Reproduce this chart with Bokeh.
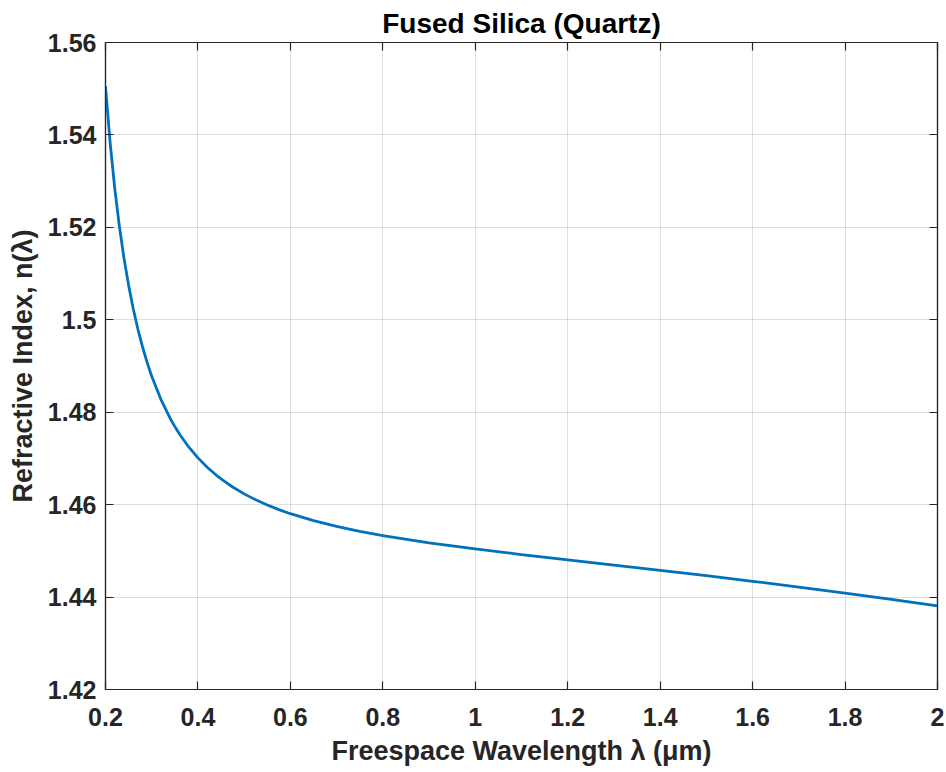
from bokeh.plotting import figure
from bokeh.models import FixedTicker, LinearAxis, Range1d
from bokeh.embed import file_html
from bokeh.resources import INLINE

# Data (wavelength in micrometres, refractive index)
wavelength = [0.20, 0.21, 0.22, 0.23, 0.24, 0.25, 0.26, 0.27, 0.28, 0.29, 0.30,
              0.32, 0.34, 0.35, 0.36, 0.38, 0.40, 0.42, 0.44, 0.45, 0.475, 0.50,
              0.525, 0.55, 0.575, 0.60, 0.65, 0.70, 0.75, 0.80, 0.90, 1.00, 1.10,
              1.20, 1.30, 1.40, 1.50, 1.60, 1.70, 1.80, 1.90, 2.00]
index_n = [1.55051, 1.53836, 1.52845, 1.52024, 1.51333, 1.50745, 1.50239, 1.49800,
           1.49417, 1.49079, 1.48779, 1.48274, 1.47865, 1.47689, 1.47529, 1.47248,
           1.47012, 1.46809, 1.46635, 1.46557, 1.46382, 1.46233, 1.46104, 1.45991,
           1.45892, 1.45804, 1.45653, 1.45529, 1.45424, 1.45332, 1.45175, 1.45042,
           1.44920, 1.44805, 1.44692, 1.44578, 1.44462, 1.44342, 1.44217, 1.44087,
           1.43951, 1.43808]

x_ticks = [0.2, 0.4, 0.6, 0.8, 1.0, 1.2, 1.4, 1.6, 1.8, 2.0]
x_tick_labels = ["0.2", "0.4", "0.6", "0.8", "1", "1.2", "1.4", "1.6", "1.8", "2"]
y_ticks = [1.42, 1.44, 1.46, 1.48, 1.50, 1.52, 1.54, 1.56]
y_tick_labels = ["1.42", "1.44", "1.46", "1.48", "1.5", "1.52", "1.54", "1.56"]

title_text = "Fused Silica (Quartz)"
x_label = "Freespace Wavelength \u03bb (\u03bcm)"
y_label = "Refractive Index, n(\u03bb)"

FONT = "Liberation Sans"
AX = "#262626"

p = figure(frame_width=832, frame_height=647,
           min_border_left=105, min_border_top=42, min_border_right=9, min_border_bottom=83,
           x_range=Range1d(0.2, 2.0), y_range=Range1d(1.42, 1.56),
           output_backend="svg", toolbar_location=None,
           background_fill_color="white", border_fill_color="white")

p.title.text = title_text
p.title.text_font = FONT
p.title.text_font_size = "28px"
p.title.text_font_style = "bold"
p.title.text_color = "black"
p.title.align = "center"
p.title.standoff = 7
p.title.offset = 0

p.line(wavelength, index_n, line_color="#0072BD", line_width=2.8)

p.outline_line_color = AX
p.outline_line_width = 1.2

xa = p.xaxis[0]
ya = p.yaxis[0]
for ax, ticks, labels in ((xa, x_ticks, x_tick_labels), (ya, y_ticks, y_tick_labels)):
    ax.ticker = FixedTicker(ticks=ticks)
    ax.major_label_overrides = {t: l for t, l in zip(ticks, labels)}
    ax.axis_line_color = AX
    ax.axis_line_width = 1.2
    ax.major_tick_line_color = AX
    ax.major_tick_line_width = 1.2
    ax.major_tick_in = 8
    ax.major_tick_out = 0
    ax.minor_tick_line_color = None
    ax.major_label_text_font = FONT
    ax.major_label_text_font_style = "bold"
    ax.major_label_text_font_size = "25px"
    ax.major_label_text_color = AX
    ax.axis_label_text_font = FONT
    ax.axis_label_text_font_style = "bold"
    ax.axis_label_text_font_size = "27px"
    ax.axis_label_text_color = AX

xa.axis_label = x_label
ya.axis_label = y_label
xa.major_label_standoff = 18
xa.axis_label_standoff = 7
ya.major_label_standoff = 9
ya.axis_label_standoff = 7

# mirrored ticks on top and right (no labels)
for loc, ticks in (("above", x_ticks), ("right", y_ticks)):
    m = LinearAxis(ticker=FixedTicker(ticks=ticks))
    m.major_label_overrides = {t: "" for t in ticks}
    m.major_label_standoff = 0
    m.axis_line_color = AX
    m.axis_line_width = 1.2
    m.major_tick_line_color = AX
    m.major_tick_line_width = 1.2
    m.major_tick_in = 8
    m.major_tick_out = 0
    m.minor_tick_line_color = None
    p.add_layout(m, loc)

p.xgrid.ticker = FixedTicker(ticks=x_ticks)
p.ygrid.ticker = FixedTicker(ticks=y_ticks)
p.grid.grid_line_color = AX
p.grid.grid_line_alpha = 0.15
p.grid.grid_line_width = 1

open("out.html", "w").write(file_html(p, INLINE))
